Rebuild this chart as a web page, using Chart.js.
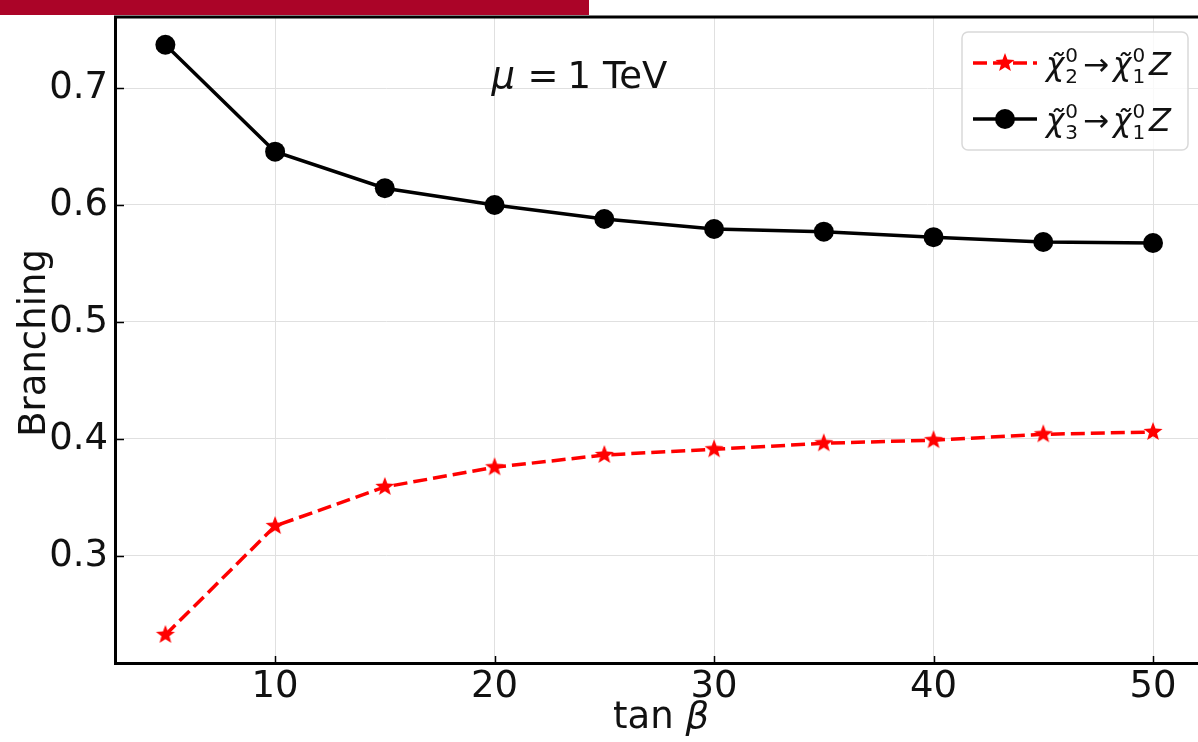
<!DOCTYPE html>
<html>
<head>
<meta charset="utf-8">
<title>Branching vs tan beta</title>
<script src="https://cdn.jsdelivr.net/npm/chart.js@4.4.0/dist/chart.umd.min.js"></script>
<style>
    html, body { margin: 0; padding: 0; background: #fff; overflow: hidden; }
    #grafico { display: block; }
</style>
</head>
<body>
<canvas id="grafico" width="1198" height="742"></canvas>
<script>
// valores de tan(beta) e as razões de ramificação
const tanBeta = [5, 10, 15, 20, 25, 30, 35, 40, 45, 50];
const brChi2 = [0.2325, 0.3256, 0.359, 0.3758, 0.3863, 0.3912, 0.3963, 0.399, 0.404, 0.406];
const brChi3 = [0.737, 0.6456, 0.6143, 0.600, 0.588, 0.5795, 0.5772, 0.5725, 0.5684, 0.5675];
const xTicks = [10, 20, 30, 40, 50];
const yTicks = [0.3, 0.4, 0.5, 0.6, 0.7];
// índices do neutralino pesado de cada série (legenda)
const legendaIndices = ['2', '3'];

const FONTE = '"DejaVu Sans", sans-serif';
const COR_TEXTO = '#111111';

// estrela de 5 pontas preenchida, usada como marcador
function criaEstrela(raio, cor) {
    const c = document.createElement('canvas');
    const lado = Math.ceil(raio * 2 + 2);
    c.width = lado; c.height = lado;
    const g = c.getContext('2d');
    const cx = lado / 2, cy = lado / 2, interno = raio * 0.42;
    g.beginPath();
    for (let i = 0; i < 10; i++) {
        const r = i % 2 === 0 ? raio : interno;
        const a = -Math.PI / 2 + i * Math.PI / 5;
        const px = cx + r * Math.cos(a), py = cy + r * Math.sin(a);
        if (i === 0) g.moveTo(px, py); else g.lineTo(px, py);
    }
    g.closePath();
    g.fillStyle = cor;
    g.fill();
    return c;
}
const estrela = criaEstrela(10, '#ff0000');

// escreve chi~ com índice e expoente empilhados; devolve o x final
function desenhaChi(ctx, x, base, sub, tam) {
    ctx.font = `italic ${tam}px ${FONTE}`;
    ctx.fillText('\u03c7\u0303', x, base);
    const w = ctx.measureText('\u03c7').width;
    const tp = Math.round(tam * 0.65);
    ctx.font = `${tp}px ${FONTE}`;
    ctx.fillText('0', x + w + 1, base - 13);
    ctx.fillText(sub, x + w + 1, base + 8);
    return x + w + 1 + ctx.measureText('0').width;
}

// tira o espaço extra que o Chart.js reserva para os rótulos das pontas
function semPadding(a) {
    a.paddingTop = 0;
    a.paddingBottom = 0;
    a.paddingLeft = 0;
    a.paddingRight = 0;
}

const moldura = {
    id: 'moldura',
    beforeDraw(chart) {
        const ctx = chart.ctx;
        ctx.save();
        ctx.fillStyle = '#fff';
        ctx.fillRect(0, 0, chart.width, chart.height);
        ctx.restore();
    },
    afterDraw(chart) {
        const ctx = chart.ctx;
        const ca = chart.chartArea;
        const sx = chart.scales.x, sy = chart.scales.y;
        ctx.save();

        // faixa vermelha no topo
        ctx.fillStyle = '#ab0428';
        ctx.fillRect(0, 0, 589, 15);

        // eixos (esquerda, topo, base)
        ctx.strokeStyle = '#000';
        ctx.lineWidth = 3;
        ctx.beginPath();
        ctx.moveTo(chart.width + 2, ca.top);
        ctx.lineTo(ca.left - 0.5, ca.top);
        ctx.lineTo(ca.left - 0.5, ca.bottom + 0.5);
        ctx.lineTo(chart.width + 2, ca.bottom + 0.5);
        ctx.stroke();

        // marcas para dentro
        ctx.lineWidth = 1.5;
        ctx.beginPath();
        yTicks.forEach(v => {
            const py = Math.round(sy.getPixelForValue(v)) + 0.5;
            ctx.moveTo(ca.left, py);
            ctx.lineTo(ca.left + 8, py);
        });
        xTicks.forEach(v => {
            const px = Math.round(sx.getPixelForValue(v)) + 0.5;
            ctx.moveTo(px, ca.bottom);
            ctx.lineTo(px, ca.bottom - 7);
        });
        ctx.stroke();

        // títulos dos eixos
        ctx.fillStyle = COR_TEXTO;
        ctx.textBaseline = 'alphabetic';
        ctx.save();
        ctx.translate(45, (ca.top + ca.bottom) / 2 + 3);
        ctx.rotate(-Math.PI / 2);
        ctx.textAlign = 'center';
        ctx.font = `37px ${FONTE}`;
        ctx.fillText('Branching', 0, 0);
        ctx.restore();

        ctx.textAlign = 'left';
        ctx.font = `37px ${FONTE}`;
        const wTan = ctx.measureText('tan ').width;
        ctx.font = `italic 37px ${FONTE}`;
        const wBeta = ctx.measureText('\u03b2').width;
        const x0 = (ca.left + ca.right) / 2 + 4 - (wTan + wBeta) / 2;
        ctx.font = `37px ${FONTE}`;
        ctx.fillText('tan ', x0, 728);
        ctx.font = `italic 37px ${FONTE}`;
        ctx.fillText('\u03b2', x0 + wTan, 728);

        // anotação mu = 1 TeV, ancorada em (20, 0.7)
        const ax = sx.getPixelForValue(20), ay = sy.getPixelForValue(0.7);
        ctx.font = `italic 37px ${FONTE}`;
        ctx.fillText('\u03bc', ax - 3, ay);
        ctx.font = `37px ${FONTE}`;
        ctx.fillText('=', ax + 33, ay);
        ctx.fillText('1 TeV', ax + 73, ay);

        // legenda
        const lx = 962, ly = 32, lw = 226, lh = 118;
        ctx.beginPath();
        ctx.roundRect(lx, ly, lw, lh, 6);
        ctx.fillStyle = 'rgba(255,255,255,0.8)';
        ctx.fill();
        ctx.strokeStyle = '#d9d9d9';
        ctx.lineWidth = 1.5;
        ctx.stroke();

        const linhas = [63, 119];
        chart.data.datasets.forEach((ds, i) => {
            const yy = linhas[i];
            ctx.save();
            ctx.strokeStyle = ds.borderColor;
            ctx.lineWidth = ds.borderWidth;
            ctx.setLineDash(ds.borderDash || []);
            ctx.beginPath();
            ctx.moveTo(973, yy);
            ctx.lineTo(1037, yy);
            ctx.stroke();
            ctx.restore();
            if (i === 0) {
                ctx.drawImage(estrela, 1005 - estrela.width / 2, yy - estrela.height / 2);
            } else {
                ctx.beginPath();
                ctx.arc(1005, yy, 10, 0, Math.PI * 2);
                ctx.fillStyle = '#000';
                ctx.fill();
            }
            ctx.fillStyle = COR_TEXTO;
            const base = yy + 12;
            let x = desenhaChi(ctx, 1046, base, legendaIndices[i], 31);
            ctx.font = `31px ${FONTE}`;
            ctx.fillText('\u2192', x + 5, base);
            x += 5 + ctx.measureText('\u2192').width + 4;
            x = desenhaChi(ctx, x, base, '1', 31);
            ctx.font = `italic 32px ${FONTE}`;
            ctx.fillText('Z', x + 4, base);
        });

        ctx.restore();
    }
};

const ctx = document.getElementById('grafico').getContext('2d');
const grafico = new Chart(ctx, {
    type: 'line',
    data: {
        datasets: [
            {
                label: '\u03c7\u0303\u2082\u2070 \u2192 \u03c7\u0303\u2081\u2070Z',
                data: tanBeta.map((t, i) => ({ x: t, y: brChi2[i] })),
                borderColor: '#ff0000',
                borderWidth: 3.5,
                borderDash: [14, 6],
                pointStyle: estrela,
                pointRadius: 10,
                tension: 0
            },
            {
                label: '\u03c7\u0303\u2083\u2070 \u2192 \u03c7\u0303\u2081\u2070Z',
                data: tanBeta.map((t, i) => ({ x: t, y: brChi3[i] })),
                borderColor: '#000000',
                borderWidth: 3.5,
                pointStyle: 'circle',
                pointRadius: 10,
                pointBackgroundColor: '#000000',
                pointBorderWidth: 0,
                tension: 0
            }
        ]
    },
    options: {
        responsive: false,
        animation: false,
        devicePixelRatio: 1,
        layout: { autoPadding: false, padding: { top: 17, left: 0, right: 0, bottom: 0 } },
        plugins: {
            legend: { display: false },
            tooltip: { enabled: false }
        },
        scales: {
            x: {
                type: 'linear',
                min: 2.75,
                max: 52.05,
                afterBuildTicks: a => { a.ticks = xTicks.map(v => ({ value: v })); },
                afterFit: a => { a.height = 79; semPadding(a); },
                grid: { color: '#e0e0e0', lineWidth: 1, drawTicks: false },
                border: { display: false },
                ticks: {
                    font: { family: FONTE, size: 37 },
                    color: COR_TEXTO,
                    padding: 2,
                    maxRotation: 0
                }
            },
            y: {
                min: 0.2085,
                max: 0.7607,
                afterBuildTicks: a => { a.ticks = yTicks.map(v => ({ value: v })); },
                afterFit: a => { a.width = 116; semPadding(a); },
                grid: { color: '#e0e0e0', lineWidth: 1, drawTicks: false },
                border: { display: false },
                ticks: {
                    font: { family: FONTE, size: 37 },
                    color: COR_TEXTO,
                    padding: 8,
                    callback: v => v.toFixed(1)
                }
            }
        }
    },
    plugins: [moldura]
});
</script>
</body>
</html>
